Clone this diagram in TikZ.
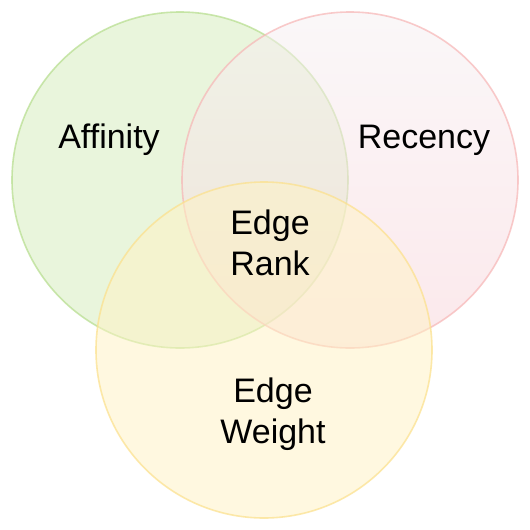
\documentclass[tikz,border=0pt]{standalone}
\usepackage{fontspec}
\setmainfont{Liberation Sans}
\definecolor{gfill}{HTML}{D5EDBB}
\definecolor{gline}{HTML}{B5DD8C}
\definecolor{ptop}{HTML}{F7F1F3}
\definecolor{pbot}{HTML}{F9D3D9}
\definecolor{pline}{HTML}{F7B5B5}
\definecolor{yfill}{HTML}{FFF3C3}
\definecolor{yline}{HTML}{FCE08A}
\begin{document}
\begin{tikzpicture}[x=1pt,y=-1pt,
  venn/.style={circle,minimum size=336pt,inner sep=0pt,line width=1.6pt,fill opacity=0.5,draw opacity=0.7},
  lbl/.style={font=\fontsize{34}{41}\selectfont,align=center,text=black}]
\useasboundingbox (0,0) rectangle (530,530);
\fill[white] (0,0) rectangle (530,530);
\node[venn,draw=gline,fill=gfill] (aff) at (180,180) {};
\node[venn,draw=pline,top color=ptop,bottom color=pbot] (rec) at (350,180) {};
\node[venn,draw=yline,fill=yfill] (wgt) at (264,350) {};
\node[lbl,anchor=base] (affl) at (109,148.6) {Affinity};
\node[lbl,anchor=base] (recl) at (424,148.6) {Recency};
\node[lbl] (rank) at (270,243) {Edge\\Rank};
\node[lbl] (wl) at (273,414) {Edge\\Weight};
\end{tikzpicture}
\end{document}
